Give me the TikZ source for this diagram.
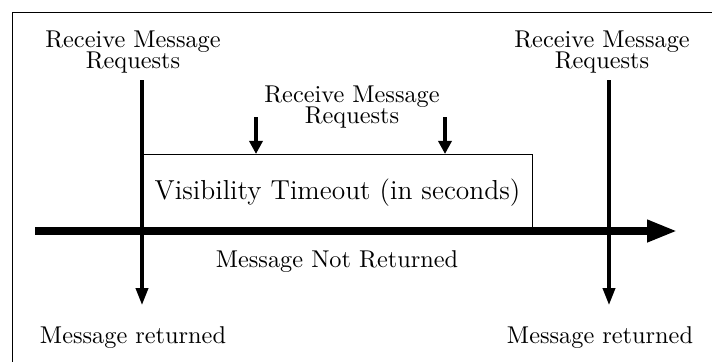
\documentclass[tikz,border=0pt]{standalone}
\usepackage{tikz}
\usetikzlibrary{arrows.meta,positioning}

\begin{document}
\begin{tikzpicture}[
    x=0.4115pt,y=-0.4115pt,
    lbl/.style={align=center,inner sep=0pt,font=\fontsize{10pt}{9pt}\selectfont},
    vbox/.style={draw=black,thin,inner sep=0pt,minimum width=160.5pt,minimum height=31.3pt,
                 font=\fontsize{11.3pt}{13pt}\selectfont},
    timeline/.style={-{Triangle[length=12.3pt,width=8.6pt]},line width=2.9pt},
    recv/.style={-{Triangle[length=7pt,width=5pt]},line width=1.4pt},
    poll/.style={recv,-{Triangle[length=5.4pt,width=5.4pt]}}
  ]
  \useasboundingbox (0,0) rectangle (712,361);
  \draw[thin] (12,12) rectangle (760,400);

  % visibility window
  \node[vbox,anchor=south west] (vt) at (142,231) {Visibility Timeout (in seconds)};

  % labels
  \node[lbl] (recvL) at (133,52) {Receive Message\\Requests};
  \node[lbl] (recvR) at (602,52) {Receive Message\\Requests};
  \node[lbl] (recvM) at (352,107) {Receive Message\\Requests};
  \node[lbl] (notret) at (337,262) {Message Not Returned};
  \node[lbl] (retL) at (133,338) {Message returned};
  \node[lbl] (retR) at (600,338) {Message returned};

  % end points
  \coordinate (t0) at (35,231);
  \coordinate (t1) at (677,231);
  \coordinate (lt) at (142,80);
  \coordinate (lb) at (142,305);
  \coordinate (rt) at (609,80);
  \coordinate (rb) at (609,305);
  \coordinate (m1) at (256,117);
  \coordinate (m2) at (445,117);

  \draw[timeline] (t0) -- (t1);
  \draw[recv] (lt) -- (lb);
  \draw[recv] (rt) -- (rb);
  \draw[poll] (m1) -- (m1 |- vt.north);
  \draw[poll] (m2) -- (m2 |- vt.north);
\end{tikzpicture}
\end{document}
